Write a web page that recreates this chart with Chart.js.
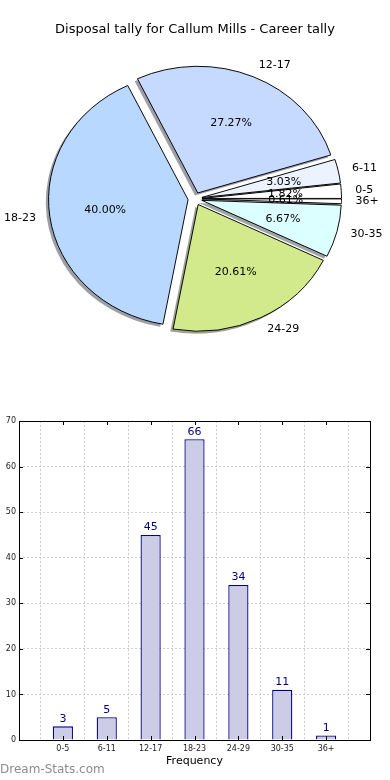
<!DOCTYPE html>
<html>
<head>
<meta charset="utf-8">
<title>Disposal tally for Callum Mills</title>
<script src="https://cdn.jsdelivr.net/npm/chart.js@4.4.0/dist/chart.umd.min.js"></script>
<style>
  html, body { margin: 0; padding: 0; background: #fff; }
  body { width: 390px; height: 780px; position: relative; overflow: hidden; }
  #pieChart { position: absolute; left: 0; top: 0; }
  #barChart { position: absolute; left: 0; top: 400px; }
  #brand { position: absolute; left: 0; top: 762px; font: 12px "DejaVu Sans", sans-serif; color: #8c8c8c; }
</style>
</head>
<body>
<canvas id="pieChart" width="390" height="400"></canvas>
<canvas id="barChart" width="390" height="380"></canvas>
<div id="brand">Dream-Stats.com</div>
<script>
// --- data ---
const categories = ['0-5', '6-11', '12-17', '18-23', '24-29', '30-35', '36+'];
const tally = [3, 5, 45, 66, 34, 11, 1];
const sliceColors = ['#ffffff', '#edf2ff', '#c6d9ff', '#b8d8ff', '#d2ea8c', '#dcffff', '#ffffff'];
const yTicks = [0, 10, 20, 30, 40, 50, 60, 70];

const chartTitle = 'Disposal tally for Callum Mills - Career tally';
const total = tally.reduce((a, b) => a + b, 0);

// matplotlib-ish look
const explodePx = 7;      // wedge explode distance
const squash = 0.908;     // pie is drawn as an ellipse in the original
const barFill = '#ccccE6';
const barEdge = '#000080';

Chart.defaults.font.family = '"DejaVu Sans", sans-serif';
Chart.defaults.color = '#000';

// Chart.js goes clockwise, matplotlib counter-clockwise: reverse the order
const pieLabels = categories.slice().reverse();
const pieData = tally.slice().reverse();
const pieColors = sliceColors.slice().reverse();

function shadowOf(hex) {
    const n = parseInt(hex.slice(1), 16);
    const r = (n >> 16) & 255, g = (n >> 8) & 255, b = n & 255;
    return `rgba(${Math.round(r * 0.3)},${Math.round(g * 0.3)},${Math.round(b * 0.3)},0.5)`;
}

const pieLook = {
    id: 'pieLook',
    afterUpdate(chart) {
        // explode every wedge along its mid angle
        chart.getDatasetMeta(0).data.forEach(arc => {
            if (arc._exploded) return;
            const drawArc = arc.draw;
            arc.draw = function (ctx, area) {
                const mid = (this.startAngle + this.endAngle) / 2;
                ctx.save();
                ctx.translate(Math.cos(mid) * explodePx, Math.sin(mid) * explodePx);
                drawArc.call(this, ctx, area);
                ctx.restore();
            };
            arc._exploded = true;
        });
    },
    beforeDatasetsDraw(chart) {
        const ctx = chart.ctx;
        const arcs = chart.getDatasetMeta(0).data;
        const cx = arcs[0].x, cy = arcs[0].y;
        ctx.save();
        ctx.translate(cx, cy);
        ctx.scale(1, squash);
        ctx.translate(-cx, -cy);
        // drop shadows
        arcs.forEach((arc, i) => {
            const mid = (arc.startAngle + arc.endAngle) / 2;
            const ox = cx + Math.cos(mid) * explodePx - 2.8;
            const oy = cy + Math.sin(mid) * explodePx + 2.8;
            ctx.beginPath();
            ctx.moveTo(ox, oy);
            ctx.arc(ox, oy, arc.outerRadius, arc.startAngle, arc.endAngle);
            ctx.closePath();
            ctx.fillStyle = shadowOf(pieColors[i]);
            ctx.fill();
        });
    },
    afterDatasetsDraw(chart) {
        const ctx = chart.ctx;
        ctx.restore();
        const arcs = chart.getDatasetMeta(0).data;
        ctx.save();
        ctx.fillStyle = '#000';
        ctx.font = '11px "DejaVu Sans", sans-serif';
        ctx.textBaseline = 'middle';
        arcs.forEach((arc, i) => {
            const mid = (arc.startAngle + arc.endAngle) / 2;
            const R = arc.outerRadius;
            const c = Math.cos(mid), s = Math.sin(mid);
            // percentage
            const dp = explodePx + 0.6 * R;
            ctx.textAlign = 'center';
            ctx.fillText((pieData[i] / total * 100).toFixed(2) + '%', arc.x + c * dp, arc.y + s * dp * squash);
            // category
            const dl = explodePx + 1.1 * R;
            ctx.textAlign = c > 0 ? 'left' : 'right';
            ctx.fillText(pieLabels[i], arc.x + c * dl, arc.y + s * dl * squash);
        });
        ctx.restore();
    }
};

new Chart(document.getElementById('pieChart'), {
    type: 'pie',
    data: {
        labels: pieLabels,
        datasets: [{
            data: pieData,
            backgroundColor: pieColors,
            borderColor: '#000',
            borderWidth: 1,
            offset: 0,
            hoverOffset: 0,
            clip: false
        }]
    },
    options: {
        responsive: false,
        animation: false,
        events: [],
        rotation: 90,
        radius: 139.5,
        layout: { padding: { top: 0, bottom: 50 } },
        plugins: {
            legend: { display: false },
            tooltip: { enabled: false },
            title: {
                display: true,
                text: chartTitle,
                color: '#000',
                font: { size: 13, weight: 'normal' },
                padding: { top: 22, bottom: 10 }
            }
        }
    },
    plugins: [pieLook]
});

// --- bar chart ---
const padCats = ['', ...categories, ''];
const padVals = [null, ...tally, null];

const barLook = {
    id: 'barLook',
    afterDraw(chart) {
        const ctx = chart.ctx;
        const { left, right, top, bottom } = chart.chartArea;
        const x = chart.scales.x, y = chart.scales.y;
        ctx.save();
        ctx.strokeStyle = '#000';
        ctx.lineWidth = 1;
        // inward tick marks
        ctx.beginPath();
        y.ticks.forEach((t, i) => {
            const py = Math.round(y.getPixelForTick(i)) + 0.5;
            ctx.moveTo(left, py); ctx.lineTo(left + 4, py);
            ctx.moveTo(right, py); ctx.lineTo(right - 4, py);
        });
        x.ticks.forEach((t, i) => {
            const px = Math.round(x.getPixelForTick(i)) + 0.5;
            ctx.moveTo(px, bottom); ctx.lineTo(px, bottom - 4);
            ctx.moveTo(px, top); ctx.lineTo(px, top + 4);
        });
        ctx.stroke();
        // frame
        ctx.strokeRect(Math.round(left) + 0.5, Math.round(top) + 0.5,
            Math.round(right - left), Math.round(bottom - top));
        // value labels
        ctx.fillStyle = barEdge;
        ctx.font = '11px "DejaVu Sans", sans-serif';
        ctx.textAlign = 'center';
        ctx.textBaseline = 'bottom';
        chart.getDatasetMeta(0).data.forEach((bar, i) => {
            if (padVals[i] == null) return;
            ctx.fillText(String(padVals[i]), bar.x, bar.y - 2);
        });
        ctx.restore();
    }
};

new Chart(document.getElementById('barChart'), {
    type: 'bar',
    data: {
        labels: padCats,
        datasets: [{
            data: padVals,
            backgroundColor: barFill,
            borderColor: barEdge,
            borderWidth: 1.3,
            barPercentage: 0.46,
            categoryPercentage: 1
        }]
    },
    options: {
        responsive: false,
        animation: false,
        events: [],
        layout: { padding: { top: 21, right: 20, bottom: 8, left: 0 } },
        plugins: {
            legend: { display: false },
            tooltip: { enabled: false }
        },
        scales: {
            x: {
                offset: false,
                z: 1,
                grid: { color: '#cdcdcd', lineWidth: 1, drawTicks: false },
                border: { display: false, dash: [2, 2] },
                ticks: { autoSkip: false, maxRotation: 0, padding: 4, color: '#222', font: { size: 8 } },
                title: { display: true, text: 'Frequency', color: '#000', font: { size: 11 }, padding: { top: 0, bottom: 4 } },
                afterFit: s => { s.height = 32; }
            },
            y: {
                min: 0,
                max: 70,
                z: 1,
                grid: { color: '#cdcdcd', lineWidth: 1, drawTicks: false },
                border: { display: false, dash: [2, 2] },
                ticks: { padding: 3, color: '#222', font: { size: 8 } },
                afterBuildTicks: s => { s.ticks = yTicks.map(v => ({ value: v })); },
                afterFit: s => { s.width = 19; }
            }
        }
    },
    plugins: [barLook]
});
</script>
</body>
</html>
